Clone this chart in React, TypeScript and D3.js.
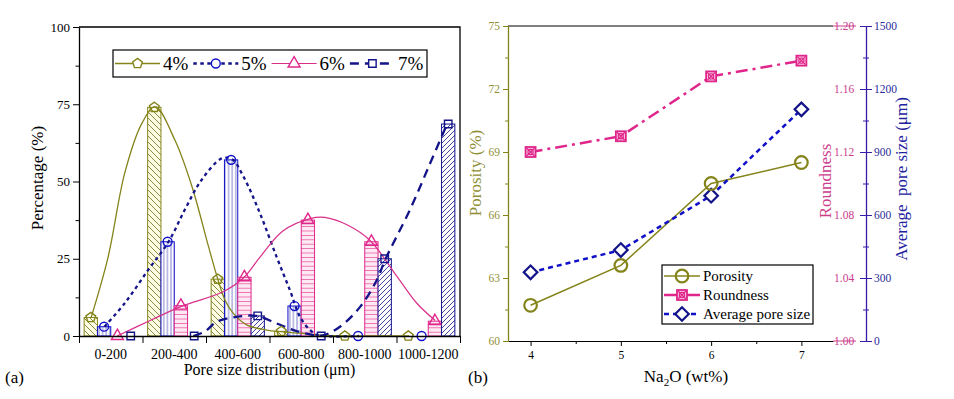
import * as d3 from 'd3';
import { useEffect, useRef } from 'react';

// (a) pore size distribution
const sizeCats = ['0-200', '200-400', '400-600', '600-800', '800-1000', '1000-1200'];
const naLabels = ['4%', '5%', '6%', '7%'];
const pct4 = [6, 74, 18.4, 1.5, 0, 0];
const pct5 = [3, 30.5, 57, 9.7, 0, 0];
const pct6 = [0, 9.8, 19, 37.5, 30.5, 4.8];
const pct7 = [0, 0, 6.5, 0, 25, 68.6];
const pctTicks = [0, 25, 50, 75, 100];

// fitted curves: [position in category units, %]
const fit4 = [[0.19, 5.9], [0.46, 25.7], [0.72, 52.7], [0.99, 68.8], [1.2, 74.2], [1.51, 63.4], [1.78, 48.3], [2.04, 28.9], [2.19, 18.1], [2.3, 11.6], [2.43, 7.3], [2.64, 3.6], [2.96, 1.9], [3.19, 1.4], [3.48, 0.9], [3.8, 0.3], [5.2, 0]];
const fit5 = [[0.4, 3], [0.72, 10.6], [1.09, 21.4], [1.41, 30.5], [1.67, 41], [1.93, 50.5], [2.25, 57.5], [2.41, 57.2], [2.59, 51.6], [2.85, 39.7], [3.11, 25.7], [3.32, 14.9], [3.48, 6.2], [3.64, 1.9], [3.76, 0.3], [4.41, 0]];
const fit6 = [[0.6, 0], [1.12, 5], [1.61, 9.6], [2.27, 14.3], [2.6, 19], [2.85, 25.5], [3.21, 34], [3.64, 38], [3.87, 38.4], [4.22, 36], [4.58, 31], [5.01, 19.2], [5.32, 10.6], [5.61, 5]];
const fit7 = [[1.8, 0], [1.98, 1.4], [2.17, 4.6], [2.48, 6.2], [2.8, 6.5], [3.11, 4.1], [3.38, 1.9], [3.64, 0.5], [3.84, 0.2], [4.11, 3], [4.43, 9.5], [4.69, 18.1], [4.82, 24.6], [5.21, 40.8], [5.53, 55.9], [5.79, 68.3]];

// (b) properties vs Na2O content
const na2o = [4, 5, 6, 7];
const porosity = [61.7, 63.6, 67.5, 68.5];
const roundness = [1.12, 1.13, 1.168, 1.178];
const avgPore = [327, 433, 692, 1103];
const porTicks = [60, 63, 66, 69, 72, 75];
const roundTicks = [1.0, 1.04, 1.08, 1.12, 1.16, 1.2];
const avgTicks = [0, 300, 600, 900, 1200, 1500];

const SERIF = "'Liberation Serif', 'Times New Roman', Times, 'DejaVu Serif', serif";
const OLIVE = '#84841a';
const OLIVE_TXT = '#8f8f35';
const PINK = '#e0268a';
const PINK_TXT = '#cc3d8c';
const NAVY = '#14148a';
const BLUE = '#1010c8';
const AXIS2 = '#3a1aa8';

// regular pentagon symbol for the 4% markers
const symbolPentagon = {
  draw(ctx, size) {
    const r = Math.sqrt(size / 2.378);
    for (let i = 0; i < 5; i++) {
      const a = -Math.PI / 2 + (i * 2 * Math.PI) / 5;
      if (i) ctx.lineTo(r * Math.cos(a), r * Math.sin(a));
      else ctx.moveTo(r * Math.cos(a), r * Math.sin(a));
    }
    ctx.closePath();
  },
};

const App = () => {
  const svgRef = useRef(null);

  useEffect(() => {
    const svg = d3.select(svgRef.current);
    svg.selectAll('*').remove();

    // hatch patterns
    const defs = svg.append('defs');
    const pat = (id, size, bg, d, stroke) => {
      const p = defs.append('pattern').attr('id', id).attr('patternUnits', 'userSpaceOnUse')
        .attr('width', size).attr('height', size);
      p.append('rect').attr('width', size).attr('height', size).attr('fill', bg);
      p.append('path').attr('d', d).attr('stroke', stroke).attr('stroke-width', 0.8).attr('fill', 'none');
    };
    pat('p4', 6, '#fdfde4', 'M0,0L6,6M-1,5L1,7M5,-1L7,1', '#6e6e20');
    pat('p5', 3.6, '#ffffff', 'M1.8,0V3.6', '#6262c4');
    pat('p6', 4.4, '#fde9f3', 'M0,2.2H4.4', '#ea5aa3');
    pat('p7', 5, '#ffffff', 'M0,5L5,0M-1,1L1,-1M4,6L6,4', NAVY);

    const series = [
      { name: '4%', values: pct4, fit: fit4, color: OLIVE, mark: OLIVE, dash: null, width: 1.3, fill: 'url(#p4)', sym: symbolPentagon },
      { name: '5%', values: pct5, fit: fit5, color: NAVY, mark: BLUE, dash: '3.5,3.5', width: 2.3, fill: 'url(#p5)', sym: d3.symbolCircle },
      { name: '6%', values: pct6, fit: fit6, color: '#d8308a', mark: PINK, dash: null, width: 1.2, fill: 'url(#p6)', sym: d3.symbolTriangle },
      { name: '7%', values: pct7, fit: fit7, color: NAVY, mark: NAVY, dash: '9,6', width: 2.3, fill: 'url(#p7)', sym: d3.symbolSquare },
    ];

    // ---------- panel (a) ----------
    const A = { left: 79, right: 460, top: 27, bottom: 336 };
    const xPos = d3.scaleLinear().domain([0, sizeCats.length]).range([A.left, A.right]);
    const xCat = d3.scaleBand().domain(sizeCats).range([A.left, A.right]);
    const xSub = d3.scaleBand().domain(naLabels).range([0, xCat.bandwidth()]).paddingOuter(0.387);
    const yPct = d3.scaleLinear().domain([0, 100]).range([A.bottom, A.top]);

    const gA = svg.append('g');

    // bars
    series.forEach(s => {
      gA.append('g').selectAll('rect')
        .data(s.values.map((v, i) => ({ v, cat: sizeCats[i] })).filter(d => d.v > 0))
        .enter()
        .append('rect')
        .attr('x', d => xCat(d.cat) + xSub(s.name))
        .attr('y', d => yPct(d.v))
        .attr('width', xSub.bandwidth())
        .attr('height', d => yPct(0) - yPct(d.v))
        .attr('fill', s.fill)
        .attr('stroke', s.mark)
        .attr('stroke-width', 1);
    });

    // fitted curves
    const fitLine = d3.line().x(d => xPos(d[0])).y(d => yPct(d[1])).curve(d3.curveCatmullRom.alpha(0.5));
    series.forEach(s => {
      gA.append('path')
        .attr('d', fitLine(s.fit))
        .attr('fill', 'none')
        .attr('stroke', s.color)
        .attr('stroke-width', s.width)
        .attr('stroke-dasharray', s.dash);
    });

    // markers
    series.forEach(s => {
      gA.append('g').selectAll('path')
        .data(s.values.map((v, i) => ({ v, cat: sizeCats[i] })))
        .enter()
        .append('path')
        .attr('d', d3.symbol().type(s.sym).size(s.sym === d3.symbolSquare ? 56 : 62))
        .attr('transform', d => `translate(${xCat(d.cat) + xSub(s.name) + xSub.bandwidth() / 2},${yPct(d.v)})`)
        .attr('fill', 'none')
        .attr('stroke', s.mark)
        .attr('stroke-width', 1.4);
    });

    // axes (a)
    const yAx = gA.append('g').attr('transform', `translate(${A.left},0)`)
      .call(d3.axisLeft(yPct).tickValues(pctTicks).tickSize(6).tickSizeOuter(0).tickPadding(3));
    yAx.attr('font-family', null).attr('font-size', null);
    yAx.selectAll('text').style('font-family', SERIF).style('font-size', '13px');
    yAx.select('.domain').attr('stroke-width', 1.3);
    gA.append('g').attr('transform', `translate(${A.left},0)`)
      .call(d3.axisLeft(yPct).tickValues([12.5, 37.5, 62.5, 87.5]).tickSize(3.5).tickFormat(() => ''))
      .call(g => g.select('.domain').remove());

    const xAx = gA.append('g').attr('transform', `translate(0,${A.bottom})`)
      .call(d3.axisBottom(xPos).tickValues(d3.range(sizeCats.length + 1)).tickSize(7).tickSizeOuter(0).tickFormat(() => ''));
    xAx.select('.domain').attr('stroke-width', 1.5);
    gA.append('g').selectAll('text')
      .data(sizeCats)
      .enter()
      .append('text')
      .attr('x', d => xCat(d) + xCat.bandwidth() / 2)
      .attr('y', 359)
      .attr('text-anchor', 'middle')
      .style('font-family', SERIF)
      .style('font-size', '14px')
      .text(d => d);

    // frame
    gA.append('path')
      .attr('d', `M${A.left},${A.top}H${A.right}V${A.bottom}`)
      .attr('fill', 'none').attr('stroke', '#000').attr('stroke-width', 1.3);

    gA.append('text').attr('transform', 'translate(43,178) rotate(-90)')
      .attr('text-anchor', 'middle').style('font-family', SERIF).style('font-size', '17px').text('Percentage (%)');
    gA.append('text').attr('x', (A.left + A.right) / 2).attr('y', 375)
      .attr('text-anchor', 'middle').style('font-family', SERIF).style('font-size', '16px').text('Pore size distribution (μm)');
    gA.append('text').attr('x', 5).attr('y', 383).style('font-family', SERIF).style('font-size', '17px').text('(a)');

    // legend (a)
    const legA = gA.append('g');
    legA.append('rect').attr('x', 113).attr('y', 50).attr('width', 314).attr('height', 27)
      .attr('fill', '#fff').attr('stroke', '#000').attr('stroke-width', 1.2);
    series.forEach((s, i) => {
      const x0 = 115 + i * 78.3;
      legA.append('line').attr('x1', x0).attr('x2', x0 + 45).attr('y1', 63.5).attr('y2', 63.5)
        .attr('stroke', s.color).attr('stroke-width', s.width).attr('stroke-dasharray', s.dash);
      legA.append('path').attr('d', d3.symbol().type(s.sym).size(s.sym === d3.symbolSquare ? 56 : 62))
        .attr('transform', `translate(${x0 + 22.5},63.5)`)
        .attr('fill', '#fff').attr('stroke', s.mark).attr('stroke-width', 1.4);
      legA.append('text').attr('x', x0 + 48).attr('y', 70).style('font-family', SERIF).style('font-size', '19px').text(s.name);
    });

    // ---------- panel (b) ----------
    const B = { left: 508, right: 833, top: 26, bottom: 341, axis2: 866 };
    const xR = d3.scaleLinear().domain([3.75, 7.35]).range([B.left, B.right]);
    const yPor = d3.scaleLinear().domain([60, 75]).range([B.bottom, B.top]);
    const yRound = d3.scaleLinear().domain([1.0, 1.2]).range([B.bottom, B.top]);
    const yAvg = d3.scaleLinear().domain([0, 1500]).range([B.bottom, B.top]);

    const gB = svg.append('g');
    const tickText = (g, color) => {
      g.attr('font-family', null).attr('font-size', null);
      g.selectAll('text').style('font-family', SERIF).style('font-size', '11.5px').attr('fill', color);
    };

    // top frame
    gB.append('line').attr('x1', B.left).attr('x2', B.right).attr('y1', B.top).attr('y2', B.top)
      .attr('stroke', '#000').attr('stroke-width', 1.2);

    // bottom axis
    const bx = gB.append('g').attr('transform', `translate(0,${B.bottom})`)
      .call(d3.axisBottom(xR).tickValues(na2o).tickSize(5).tickSizeOuter(0).tickPadding(5).tickFormat(d3.format('d')));
    tickText(bx, '#000');
    bx.select('.domain').attr('stroke-width', 1.2);
    gB.append('g').attr('transform', `translate(0,${B.bottom})`)
      .call(d3.axisBottom(xR).tickValues([4.5, 5.5, 6.5]).tickSize(3).tickFormat(() => ''))
      .call(g => g.select('.domain').remove());

    // porosity axis (left, olive)
    const pa = gB.append('g').attr('transform', `translate(${B.left},0)`)
      .call(d3.axisLeft(yPor).tickValues(porTicks).tickSize(5).tickSizeOuter(0).tickPadding(3));
    tickText(pa, OLIVE_TXT);
    pa.selectAll('line').attr('stroke', OLIVE);
    pa.select('.domain').attr('stroke', OLIVE).attr('stroke-width', 1.3);
    gB.append('g').attr('transform', `translate(${B.left},0)`)
      .call(d3.axisLeft(yPor).tickValues([61.5, 64.5, 67.5, 70.5, 73.5]).tickSize(3).tickFormat(() => ''))
      .call(g => { g.select('.domain').remove(); g.selectAll('line').attr('stroke', OLIVE); });

    // roundness axis (right, pink labels)
    const ra = gB.append('g').attr('transform', `translate(${B.right},0)`)
      .call(d3.axisRight(yRound).tickValues(roundTicks).tickSize(0).tickPadding(1).tickFormat(d3.format('.2f')));
    tickText(ra, PINK_TXT);
    ra.select('.domain').remove();
    [1.0, 1.2].forEach(v => {
      gB.append('line').attr('x1', B.right).attr('x2', B.right + 23).attr('y1', yRound(v)).attr('y2', yRound(v))
        .attr('stroke', PINK_TXT).attr('stroke-width', 1);
    });

    // average pore size axis (offset, navy)
    const aa = gB.append('g').attr('transform', `translate(${B.axis2},0)`)
      .call(d3.axisRight(yAvg).tickValues(avgTicks).tickSize(6).tickSizeOuter(0).tickPadding(2).tickFormat(d3.format('d')));
    tickText(aa, '#2a2a9a');
    aa.selectAll('.tick line').attr('x1', -6).attr('stroke', AXIS2);
    aa.select('.domain').attr('stroke', AXIS2).attr('stroke-width', 1.3);
    gB.append('g').attr('transform', `translate(${B.axis2},0)`)
      .call(d3.axisRight(yAvg).tickValues([150, 450, 750, 1050, 1350]).tickSize(3).tickFormat(() => ''))
      .call(g => { g.select('.domain').remove(); g.selectAll('line').attr('x1', -3).attr('stroke', AXIS2); });

    // lines
    const lineOf = (ys) => d3.line().x((d, i) => xR(na2o[i])).y(d => ys(d));
    gB.append('path').attr('d', lineOf(yPor)(porosity)).attr('fill', 'none')
      .attr('stroke', OLIVE).attr('stroke-width', 1.5);
    gB.append('path').attr('d', lineOf(yRound)(roundness)).attr('fill', 'none')
      .attr('stroke', PINK).attr('stroke-width', 2.5).attr('stroke-dasharray', '12,5,3,5');
    gB.append('path').attr('d', lineOf(yAvg)(avgPore)).attr('fill', 'none')
      .attr('stroke', BLUE).attr('stroke-width', 2.5).attr('stroke-dasharray', '5,4');

    // markers
    const drawPor = (g, x, y) => g.append('circle').attr('cx', x).attr('cy', y).attr('r', 6.3)
      .attr('fill', 'none').attr('stroke', OLIVE).attr('stroke-width', 2.2);
    const drawRound = (g, x, y) => {
      const m = g.append('g').attr('transform', `translate(${x},${y})`);
      m.append('rect').attr('x', -5).attr('y', -5).attr('width', 10).attr('height', 10)
        .attr('fill', '#f9c3de').attr('stroke', PINK).attr('stroke-width', 1.8);
      m.append('path').attr('d', 'M-4,-4L4,4M-4,4L4,-4').attr('stroke', PINK).attr('stroke-width', 1.2);
      m.append('circle').attr('r', 2.6).attr('fill', 'none').attr('stroke', PINK).attr('stroke-width', 1.1);
    };
    const drawAvg = (g, x, y) => g.append('path').attr('d', d3.symbol().type(d3.symbolSquare).size(92))
      .attr('transform', `translate(${x},${y}) rotate(45)`)
      .attr('fill', '#fff').attr('stroke', NAVY).attr('stroke-width', 2.2);

    na2o.forEach((n, i) => drawAvg(gB, xR(n), yAvg(avgPore[i])));
    na2o.forEach((n, i) => drawPor(gB, xR(n), yPor(porosity[i])));
    na2o.forEach((n, i) => drawRound(gB, xR(n), yRound(roundness[i])));

    // legend (b)
    const legB = gB.append('g');
    legB.append('rect').attr('x', 662).attr('y', 265).attr('width', 151).attr('height', 59)
      .attr('fill', '#fff').attr('stroke', '#000').attr('stroke-width', 1.2);
    const legItems = [
      { label: 'Porosity', color: OLIVE, w: 1.5, dash: null, draw: drawPor },
      { label: 'Roundness', color: PINK, w: 2.5, dash: null, draw: drawRound },
      { label: 'Average pore size', color: BLUE, w: 2.5, dash: '5,4', draw: drawAvg },
    ];
    legItems.forEach((it, i) => {
      const y = 276 + i * 19;
      legB.append('line').attr('x1', 664).attr('x2', 700).attr('y1', y).attr('y2', y)
        .attr('stroke', it.color).attr('stroke-width', it.w).attr('stroke-dasharray', it.dash);
      it.draw(legB, 682, y);
      legB.append('text').attr('x', 703).attr('y', y + 5).style('font-family', SERIF).style('font-size', '15px').text(it.label);
    });

    // titles (b)
    gB.append('text').attr('transform', 'translate(481,173) rotate(-90)')
      .attr('text-anchor', 'middle').style('font-family', SERIF).style('font-size', '17px').attr('fill', OLIVE_TXT).text('Porosity (%)');
    gB.append('text').attr('transform', 'translate(831,181) rotate(-90)')
      .attr('text-anchor', 'middle').style('font-family', SERIF).style('font-size', '17px').attr('fill', PINK_TXT).text('Roundness');
    gB.append('text').attr('transform', 'translate(907,179) rotate(-90)')
      .attr('text-anchor', 'middle').style('font-family', SERIF).style('font-size', '17px').attr('fill', '#2323a0')
      .style('white-space', 'pre').text('Average  pore size (μm)');
    const na = gB.append('text').attr('x', 686).attr('y', 382).attr('text-anchor', 'middle')
      .style('font-family', SERIF).style('font-size', '17px');
    na.append('tspan').text('Na');
    na.append('tspan').style('font-size', '11px').attr('dy', 4).text('2');
    na.append('tspan').attr('dy', -4).text('O (wt%)');
    gB.append('text').attr('x', 468).attr('y', 383).style('font-family', SERIF).style('font-size', '17px').text('(b)');
  }, []);

  return (
    <svg
      ref={svgRef}
      width={954}
      height={399}
      style={{ position: 'absolute', left: 0, top: 0, background: '#fff' }}
    />
  );
};

export default App;
